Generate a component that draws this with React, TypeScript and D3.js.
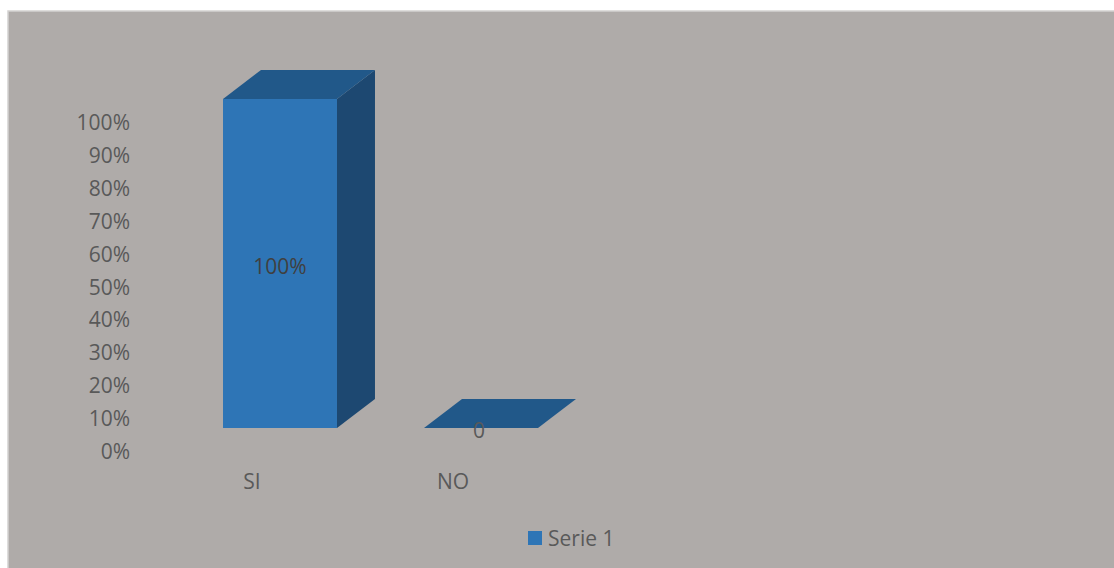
import React from "react";
import * as d3 from "d3";

const categories = ["SI", "NO"];
const values = [1.0, 0.0];
const dataLabels = ["100%", "0"];
const tickValues = [0, 0.1, 0.2, 0.3, 0.4, 0.5, 0.6, 0.7, 0.8, 0.9, 1.0];
const seriesName = "Serie 1";

const W = 1114;
const H = 568;
const FONT = "'Open Sans', 'Liberation Sans', sans-serif";
const FS = 21;
const TEXT = "#595959";
const FRONT = "#2e75b6";
const TOP = "#215889";
const SIDE = "#1d4871";
const DX = 38;
const DY = 29;

export default function App() {
  const x = d3
    .scaleBand<string>()
    .domain(categories)
    .range([179.5, 581.5])
    .paddingInner(0.433)
    .paddingOuter(0.2165);
  const y = d3.scaleLinear().domain([0, 1]).range([428, 99]);
  const fmt = d3.format(".0%");
  const bw = x.bandwidth();

  return (
    <svg
      width={W}
      height={H}
      style={{ position: "absolute", left: 0, top: 0, display: "block" }}
    >
      <rect x={8} y={11} width={W} height={H} fill="#afaba9" stroke="#d4d2d1" strokeWidth={1.5} />
      {tickValues.map((t) => (
        <text
          key={t}
          x={130}
          y={y(t) + 23}
          textAnchor="end"
          dominantBaseline="central"
          fontFamily={FONT}
          fontSize={FS}
          fill={TEXT}
        >
          {fmt(t)}
        </text>
      ))}
      {categories.map((c, i) => {
        const x0 = x(c)!;
        const x1 = x0 + bw;
        const yb = y(0);
        const yt = y(values[i]);
        const top = `M${x0},${yt} L${x0 + DX},${yt - DY} L${x1 + DX},${yt - DY} L${x1},${yt} Z`;
        const side = `M${x1},${yt} L${x1 + DX},${yt - DY} L${x1 + DX},${yb - DY} L${x1},${yb} Z`;
        return (
          <g key={c}>
            {values[i] > 0 && <path d={side} fill={SIDE} />}
            {values[i] > 0 && <rect x={x0} y={yt} width={bw} height={yb - yt} fill={FRONT} />}
            <path d={top} fill={TOP} />
            <text
              x={x0 + bw / 2 + (values[i] > 0 ? 0 : -2)}
              y={values[i] > 0 ? (yt + yb) / 2 + 2 : yb + 2}
              textAnchor="middle"
              dominantBaseline="central"
              fontFamily={FONT}
              fontSize={FS}
              fill={values[i] > 0 ? "#404040" : TEXT}
            >
              {dataLabels[i]}
            </text>
            <text
              x={x0 + bw / 2 - 28}
              y={481}
              textAnchor="middle"
              dominantBaseline="central"
              fontFamily={FONT}
              fontSize={FS}
              fill={TEXT}
            >
              {c}
            </text>
          </g>
        );
      })}
      <rect x={528} y={531} width={14} height={14} fill={FRONT} />
      <text x={548} y={538} dominantBaseline="central" fontFamily={FONT} fontSize={FS} fill={TEXT}>
        {seriesName}
      </text>
    </svg>
  );
}
